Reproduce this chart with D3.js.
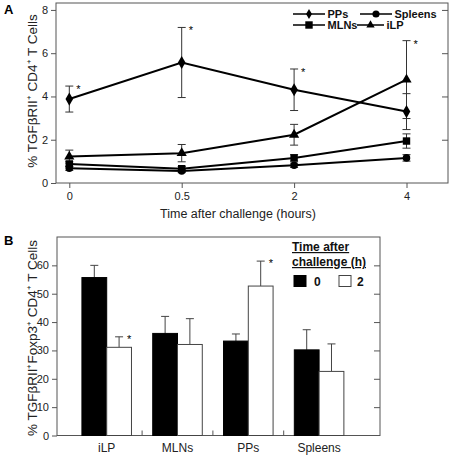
<!DOCTYPE html>
<html><head><meta charset="utf-8">
<script src="https://cdn.jsdelivr.net/npm/d3@7"></script>
<style>body{margin:0;background:#fff;} text{font-family:"Liberation Sans",Arial,sans-serif;}</style>
</head><body>
<svg id="c" width="453" height="457"></svg>
<script>
// ---- Panel A data ----
const timePoints = ["0", "0.5", "2", "4"];
const seriesNames = ["PPs", "Spleens", "MLNs", "iLP"];
const ppsMean = [3.88, 5.57, 4.31, 3.30];
const ppsErr = [0.6, 1.62, 0.96, 0.83];
const spleensMean = [0.68, 0.56, 0.82, 1.16];
const spleensErr = [0.1, 0.08, 0.1, 0.15];
const mlnsMean = [0.88, 0.66, 1.16, 1.94];
const mlnsErr = [0.12, 0.1, 0.15, 0.33];
const ilpMean = [1.22, 1.38, 2.23, 4.78];
const ilpErr = [0.3, 0.4, 0.48, 1.8];
const asteriskA = [true, true, true, true];
const yTicksA = [0, 2, 4, 6, 8];

// ---- Panel B data ----
const tissues = ["iLP", "MLNs", "PPs", "Spleens"];
const groups = ["0", "2"];
const bar0h = [55.7, 36.0, 33.3, 30.2];
const bar0hErr = [4.3, 6.0, 2.5, 7.1];
const bar2h = [31.1, 32.1, 52.7, 22.6];
const bar2hErr = [3.7, 9.1, 8.8, 9.7];
const asteriskB2h = [true, false, true, false];
const yTicksB = [0, 10, 20, 30, 40, 50, 60];

const svg = d3.select("#c");
const FONT = '"Liberation Sans",Arial,sans-serif';

// ================= Panel A =================
const A = {l: 56, r: 448, t: 3, b: 183};
const xA = d3.scalePoint().domain(timePoints).range([69.3, 406.5]);
const yA = d3.scaleLinear().domain([0, 8.32]).range([A.b, A.t]);

const gA = svg.append("g");
gA.append("rect").attr("x", A.l).attr("y", A.t).attr("width", A.r - A.l).attr("height", A.b - A.t)
  .attr("fill", "none").attr("stroke", "#555").attr("stroke-width", 1);

const axLA = gA.append("g").attr("transform", `translate(${A.l},0)`)
  .call(d3.axisLeft(yA).tickValues(yTicksA).tickSize(5).tickPadding(3));
const axRA = gA.append("g").attr("transform", `translate(${A.r},0)`)
  .call(d3.axisLeft(yA).tickValues(yTicksA.filter(d => d > 0)).tickSize(6).tickFormat(""));
const axBA = gA.append("g").attr("transform", `translate(0,${A.b})`)
  .call(d3.axisBottom(xA).tickSize(5).tickPadding(4));
[axLA, axRA, axBA].forEach(a => {
  a.select(".domain").remove();
  a.selectAll("line").attr("stroke", "#555");
  a.selectAll("text").attr("font-size", 11).attr("fill", "#222").attr("font-family", FONT);
});

const seriesData = [
  {name: "PPs", mean: ppsMean, err: ppsErr, sym: d3.symbolDiamond, size: 50},
  {name: "Spleens", mean: spleensMean, err: spleensErr, sym: d3.symbolCircle, size: 45},
  {name: "MLNs", mean: mlnsMean, err: mlnsErr, sym: d3.symbolSquare, size: 55},
  {name: "iLP", mean: ilpMean, err: ilpErr, sym: d3.symbolTriangle, size: 45}
];
const line = d3.line().x((d, i) => xA(timePoints[i])).y(d => yA(d));

seriesData.forEach(s => {
  s.mean.forEach((m, i) => {
    const x = xA(timePoints[i]);
    const y1 = yA(m + s.err[i]), y0 = yA(m - s.err[i]);
    gA.append("line").attr("x1", x).attr("x2", x).attr("y1", y1).attr("y2", y0).attr("stroke", "#333").attr("stroke-width", 1);
    [y1, y0].forEach(y => gA.append("line").attr("x1", x - 4).attr("x2", x + 4).attr("y1", y).attr("y2", y).attr("stroke", "#333").attr("stroke-width", 1));
  });
});
seriesData.forEach(s => {
  gA.append("path").datum(s.mean).attr("d", line).attr("fill", "none").attr("stroke", "#000").attr("stroke-width", 2);
  s.mean.forEach((m, i) => {
    gA.append("path").attr("d", d3.symbol().type(s.sym).size(s.size)())
      .attr("transform", `translate(${xA(timePoints[i])},${yA(m)})`).attr("fill", "#000");
  });
});
ppsMean.forEach((m, i) => {
  if (!asteriskA[i]) return;
  const yTop = i === 3 ? yA(ilpMean[3] + ilpErr[3]) : yA(m + ppsErr[i]);
  gA.append("text").attr("x", xA(timePoints[i]) + 7).attr("y", yTop + 7).attr("font-size", 11).attr("fill", "#000").text("*");
});

// legend A
const legA = [
  {name: "PPs", x: 293, y: 14, w: 32, sym: d3.symbolDiamond, size: 30},
  {name: "Spleens", x: 360, y: 14, w: 32, sym: d3.symbolCircle, size: 40},
  {name: "MLNs", x: 293, y: 25, w: 32, sym: d3.symbolSquare, size: 55},
  {name: "iLP", x: 357, y: 25, w: 27, sym: d3.symbolTriangle, size: 30}
];
legA.forEach(l => {
  gA.append("line").attr("x1", l.x).attr("x2", l.x + l.w).attr("y1", l.y).attr("y2", l.y).attr("stroke", "#000").attr("stroke-width", 1.5);
  gA.append("path").attr("d", d3.symbol().type(l.sym).size(l.size)()).attr("transform", `translate(${l.x + l.w / 2},${l.y})`).attr("fill", "#000");
  gA.append("text").attr("x", l.x + l.w + 2.5).attr("y", l.y + 4).attr("font-size", 11).attr("font-weight", "bold").attr("fill", "#111").text(l.name);
});

gA.append("text").attr("x", 238).attr("y", 218).attr("text-anchor", "middle").attr("font-size", 12.5).attr("fill", "#222").text("Time after challenge (hours)");
gA.append("text").attr("transform", "translate(37,91) rotate(-90)").attr("text-anchor", "middle").attr("font-size", 13.5).attr("fill", "#222").text("% TGFβRII⁺ CD4⁺ T Cells");
gA.append("text").attr("x", 4).attr("y", 14).attr("font-size", 13).attr("font-weight", "bold").text("A");

// ================= Panel B =================
const B = {l: 57, r: 380, t: 237, b: 435.5};
const yB = d3.scaleLinear().domain([0, 70]).range([B.b, B.t]);
const x0 = d3.scaleBand().domain(tissues).range([71.3, 354.5]).paddingInner(0.3).paddingOuter(0.15);
const x1 = d3.scaleBand().domain(groups).range([0, x0.bandwidth()]);
const gB = svg.append("g");
gB.append("rect").attr("x", B.l).attr("y", B.t).attr("width", B.r - B.l).attr("height", B.b - B.t)
  .attr("fill", "none").attr("stroke", "#555").attr("stroke-width", 1);
const axLB = gB.append("g").attr("transform", `translate(${B.l},0)`)
  .call(d3.axisLeft(yB).tickValues(yTicksB).tickSize(5).tickPadding(3));
const axRB = gB.append("g").attr("transform", `translate(${B.r},0)`)
  .call(d3.axisLeft(yB).tickValues(yTicksB.filter(d => d > 0)).tickSize(6).tickFormat(""));
[axLB, axRB].forEach(a => {
  a.select(".domain").remove();
  a.selectAll("line").attr("stroke", "#555");
  a.selectAll("text").attr("font-size", 11).attr("fill", "#222").attr("font-family", FONT);
});
tissues.slice(0, -1).forEach((t, i) => {
  const xm = (x0(t) + x0.bandwidth() / 2 + x0(tissues[i + 1]) + x0.bandwidth() / 2) / 2;
  gB.append("line").attr("x1", xm).attr("x2", xm).attr("y1", B.b).attr("y2", B.b - 5).attr("stroke", "#555");
});
tissues.forEach((t, i) => {
  gB.append("text").attr("x", x0(t) + x0.bandwidth() / 2).attr("y", B.b + 16).attr("text-anchor", "middle").attr("font-size", 12).attr("fill", "#222").text(t);
  const vals = [[bar0h[i], bar0hErr[i], "#000", "#000"], [bar2h[i], bar2hErr[i], "#fff", "#444"]];
  vals.forEach((v, j) => {
    const bx = x0(t) + x1(groups[j]);
    const bw = x1.bandwidth();
    const cx = bx + bw / 2;
    gB.append("line").attr("x1", cx).attr("x2", cx).attr("y1", yB(v[0])).attr("y2", yB(v[0] + v[1])).attr("stroke", "#444");
    gB.append("line").attr("x1", cx - 4).attr("x2", cx + 4).attr("y1", yB(v[0] + v[1])).attr("y2", yB(v[0] + v[1])).attr("stroke", "#444");
    gB.append("rect").attr("x", bx).attr("y", yB(v[0])).attr("width", bw).attr("height", B.b - yB(v[0]))
      .attr("fill", v[2]).attr("stroke", v[3]).attr("stroke-width", 1);
  });
  if (asteriskB2h[i]) {
    const cx = x0(t) + x1("2") + x1.bandwidth() / 2;
    gB.append("text").attr("x", cx + 8).attr("y", yB(bar2h[i] + bar2hErr[i]) + 6).attr("font-size", 11).attr("fill", "#000").text("*");
  }
});
gB.append("text").attr("x", 292).attr("y", 251).attr("font-size", 12).attr("font-weight", "bold").attr("text-decoration", "underline").attr("fill", "#111").text("Time after");
gB.append("text").attr("x", 292).attr("y", 266).attr("font-size", 12).attr("font-weight", "bold").attr("text-decoration", "underline").attr("fill", "#111").text("challenge (h)");
gB.append("rect").attr("x", 294).attr("y", 275.5).attr("width", 12).attr("height", 11).attr("fill", "#000").attr("stroke", "#000");
gB.append("text").attr("x", 314).attr("y", 285.5).attr("font-size", 12).attr("font-weight", "bold").attr("fill", "#111").text(groups[0]);
gB.append("rect").attr("x", 339).attr("y", 275.5).attr("width", 12).attr("height", 11).attr("fill", "#fff").attr("stroke", "#444");
gB.append("text").attr("x", 357).attr("y", 285.5).attr("font-size", 12).attr("font-weight", "bold").attr("fill", "#111").text(groups[1]);

gB.append("text").attr("transform", "translate(37,338) rotate(-90)").attr("text-anchor", "middle").attr("font-size", 13.5).attr("fill", "#222").text("% TGFβRII⁺Foxp3⁺ CD4⁺ T Cells");
gB.append("text").attr("x", 4).attr("y", 245).attr("font-size", 13).attr("font-weight", "bold").text("B");
</script>
</body></html>
